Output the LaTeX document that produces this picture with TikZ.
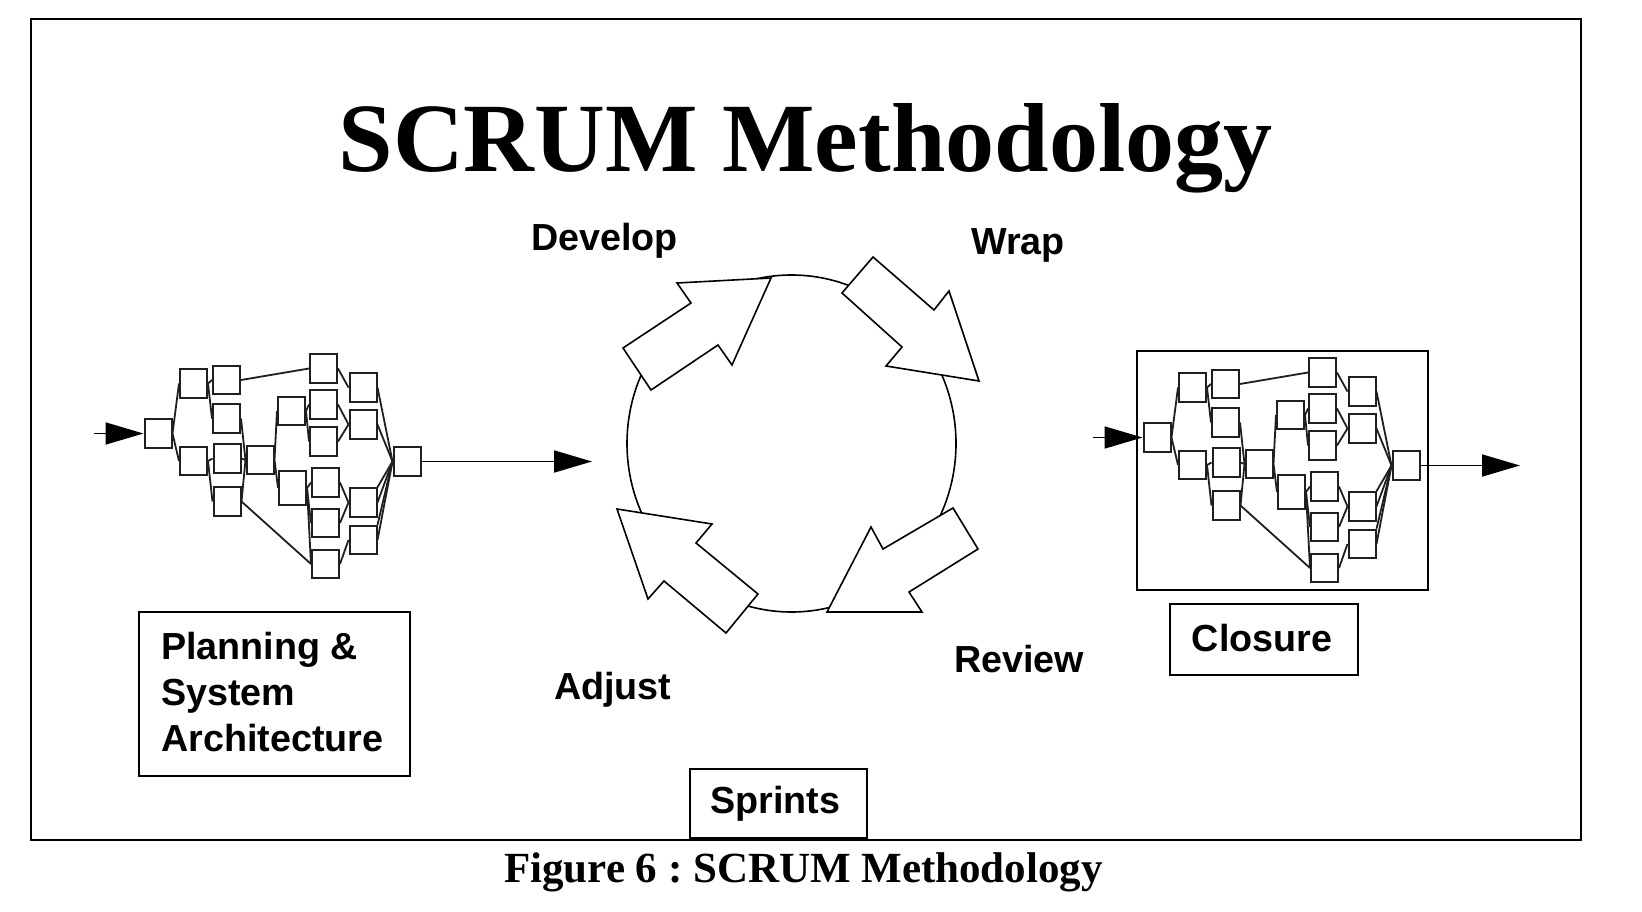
\documentclass[tikz,border=0pt]{standalone}
\usepackage{fontspec}
\setmainfont{Liberation Serif}
\newfontfamily\arialfont{Liberation Sans}
\usetikzlibrary{arrows.meta}
\frenchspacing
\tikzset{
 pbox/.style={draw=black!88, line width=2pt, minimum width=27pt, minimum height=28.5pt, inner sep=0pt, fill=white},
 plink/.style={draw=black!88, line width=1.8pt},
 bigarr/.style={line width=1.8pt, -{Triangle[length=38pt,width=22pt]}},
 blockarrow/.style={draw=black, fill=white, line width=1.6pt, line join=miter},
 lbl/.style={font=\arialfont\bfseries\fontsize{37.7}{46}\selectfont, inner sep=0pt},
 lblbox/.style={draw=black, line width=2pt, inner sep=0pt},
}
\newcommand\pertnet[2]{%
\begin{scope}[shift={#2}]
\node[pbox] (#1A) at (158,433.5) {};
\node[pbox] (#1B1) at (193.5,383.5) {};
\node[pbox] (#1B2) at (193.5,461) {};
\node[pbox] (#1C1) at (226.5,380) {};
\node[pbox] (#1C2) at (226.5,418.5) {};
\node[pbox] (#1C3) at (227,458.5) {};
\node[pbox] (#1C4) at (227,501.5) {};
\node[pbox] (#1D) at (260,460) {};
\node[pbox] (#1E1) at (291.5,411) {};
\node[pbox, minimum height=34pt] (#1E2) at (292.5,488) {};
\node[pbox] (#1F1) at (323.5,368.5) {};
\node[pbox] (#1F2) at (323.5,404.5) {};
\node[pbox] (#1F3) at (323.5,441.5) {};
\node[pbox] (#1F4) at (325.5,482.5) {};
\node[pbox] (#1F5) at (325.5,523) {};
\node[pbox] (#1F6) at (325.5,564) {};
\node[pbox] (#1G1) at (363,387.5) {};
\node[pbox] (#1G2) at (363,424.5) {};
\node[pbox] (#1G3) at (363,502.5) {};
\node[pbox] (#1G4) at (363,540) {};
\node[pbox] (#1H) at (407,461.5) {};
\draw[plink] (#1A.east) -- (#1B1.west);
\draw[plink] (#1A.east) -- (#1B2.west);
\draw[plink] (#1B1.east) -- (#1C1.west);
\draw[plink] (#1B1.east) -- (#1C2.west);
\draw[plink] (#1B2.east) -- (#1C3.west);
\draw[plink] (#1B2.east) -- (#1C4.west);
\draw[plink] (#1C1.east) -- (#1F1.west);
\draw[plink] (#1C2.east) -- (#1D.west);
\draw[plink] (#1C3.east) -- (#1D.west);
\draw[plink] (#1C4.east) -- (#1D.west);
\draw[plink] (#1C4.east) -- (#1F6.west);
\draw[plink] (#1D.east) -- (#1E1.west);
\draw[plink] (#1D.east) -- (#1E2.west);
\draw[plink] (#1E1.east) -- (#1F2.west);
\draw[plink] (#1E1.east) -- (#1F3.west);
\draw[plink] (#1E2.east) -- (#1F4.west);
\draw[plink] (#1E2.east) -- (#1F5.west);
\draw[plink] (#1E2.east) -- (#1F6.west);
\draw[plink] (#1F1.east) -- (#1G1.west);
\draw[plink] (#1F2.east) -- (#1G2.west);
\draw[plink] (#1F3.east) -- (#1G2.west);
\draw[plink] (#1F4.east) -- (#1G3.west);
\draw[plink] (#1F5.east) -- (#1G3.west);
\draw[plink] (#1F6.east) -- (#1G4.west);
\draw[plink] (#1G1.east) -- (#1H.west);
\draw[plink] (#1G2.east) -- (#1H.west);
\draw[plink] (#1G3.east) -- (#1H.west);
\draw[plink] (#1G3.north east) -- (#1H.west);
\draw[plink] (#1G4.east) -- (#1H.west);
\draw[plink] (#1G4.north east) -- (#1H.west);
\end{scope}}
\begin{document}
\begin{tikzpicture}[x=1pt,y=-1pt]
\useasboundingbox[fill=white] (0,0) rectangle (1642,912);
% outer frame
\draw[line width=2.6pt] (31,19) rectangle (1581,840);
% title and caption
\node[font=\bfseries\fontsize{98}{110}\selectfont, anchor=base, inner sep=0pt] (title) at (805.5,172) {SCRUM Methodology};
\node[font=\bfseries\fontsize{43}{50}\selectfont, anchor=base, inner sep=0pt] (caption) at (803.5,882) {Figure 6 : SCRUM Methodology};
% left network
\pertnet{L}{(0,0)}
\coordinate (Lin) at (94,433.5);
\coordinate (Lout) at (592,461.5);
\draw[bigarr] (Lin) -- (LA.west);
\draw[bigarr] (LH.east) -- (Lout);
% right network with frame
\node[draw, line width=2.2pt, minimum width=291pt, minimum height=239pt, inner sep=0pt] (rframe) at (1282.5,470.5) {};
\pertnet{R}{(999,4)}
\coordinate (Rin) at (1093,437.5);
\coordinate (Rout) at (1520,465.5);
\draw[bigarr] (Rin) -- (RA.west);
\draw[bigarr] (RH.east) -- (Rout);
% sprint cycle
\draw[line width=1.6pt] (791.5,443.5) ellipse [x radius=164.5pt, y radius=168.5pt];
\draw[blockarrow] (623,348) -- (691,303) -- (677,283) -- (771,278) -- (732,365) -- (718,345) -- (651,390) -- cycle;
\draw[blockarrow] (873,257) -- (934,310) -- (949,291) -- (979,381) -- (886,366) -- (902,347) -- (842,293) -- cycle;
\draw[blockarrow] (953,508) -- (978,549) -- (909,592) -- (922,612) -- (827,612) -- (871,527) -- (883,549) -- cycle;
\draw[blockarrow] (617,509) -- (712,524) -- (696,543) -- (758,594) -- (726,633) -- (664,581) -- (648,599) -- cycle;
% phase labels
\node[lbl, anchor=base west] (develop) at (531,251) {Develop};
\node[lbl, anchor=base west] (wrap) at (971,255) {Wrap};
\node[lbl, anchor=base west] (review) at (954,672) {Review};
\node[lbl, anchor=base west] (adjust) at (554,699) {Adjust};
% boxed labels
\node[lblbox, minimum width=271pt, minimum height=164pt] (planbox) at (274.5,694) {};
\node[lbl, anchor=base west] (plan1) at (161,659) {Planning \&};
\node[lbl, anchor=base west] (plan2) at (161,705) {System};
\node[lbl, anchor=base west] (plan3) at (161,751) {Architecture};
\node[lblbox, minimum width=188pt, minimum height=71pt] (closbox) at (1264,639.5) {};
\node[lbl, anchor=base] (closure) at (1262,651) {Closure};
\node[lblbox, minimum width=177pt, minimum height=69pt] (sprbox) at (778.5,803.5) {};
\node[lbl, anchor=base] (sprints) at (775.5,813) {Sprints};
\end{tikzpicture}
\end{document}
